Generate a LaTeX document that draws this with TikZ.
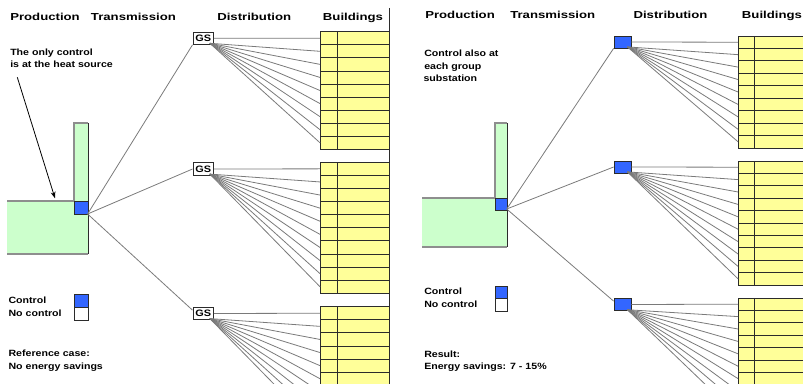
\documentclass[tikz,border=0pt]{standalone}
\usepackage{fontspec}
\setmainfont{Liberation Sans}
\newfontfamily\headfont{Liberation Sans}[FakeStretch=1.3]
\newfontfamily\notefont{Liberation Sans}[FakeStretch=1.17]
\usetikzlibrary{calc,arrows.meta}

\definecolor{plantgreen}{HTML}{CCFFCC}
\definecolor{ctrlblue}{HTML}{3366FF}
\definecolor{bldyellow}{HTML}{FFFF99}
\definecolor{pipegray}{HTML}{7A7A7A}
\definecolor{edgegray}{HTML}{8E8E8E}
\definecolor{edgedark}{HTML}{2B2B2B}

\tikzset{
  head/.style={font=\headfont\bfseries\fontsize{7.6}{9}\selectfont, anchor=base west, inner sep=0pt},
  note/.style={font=\notefont\bfseries\fontsize{6.8}{8}\selectfont, anchor=base west, inner sep=0pt},
  pipe/.style={draw=pipegray, line width=0.6pt},
  bldrow/.style={fill=bldyellow, draw=edgedark, line width=0.6pt},
  bldline/.style={draw=edgedark, line width=0.6pt},
  gsnode/.style={draw=edgedark, fill=white, line width=0.5pt, inner sep=0pt,
    minimum width=15.5pt, minimum height=9.4pt,
    font=\notefont\bfseries\fontsize{7}{8}\selectfont},
  ctrlnode/.style={draw=edgedark, fill=ctrlblue, line width=0.6pt, inner sep=0pt},
  freenode/.style={draw=edgedark, fill=white, line width=0.6pt, inner sep=0pt},
}

% a stack of building rows: name, left x, column x, right x, top y, rows, row height
\newcommand\bldgroup[7]{%
  \foreach \i in {1,...,#6}{%
    \draw[bldrow] (#2,{#5+(\i-1)*#7}) rectangle (#4,{#5+\i*#7});
    \coordinate (#1-\i) at (#2,{#5+(\i-0.5)*#7});
  }%
  \draw[bldline] (#3,#5) -- (#3,{#5+#6*#7});
}
% distribution fan: substation node, building group, rows
\newcommand\distfan[3]{%
  \coordinate (#1hub) at ($(#1.south east)+(-4,-1.5)$);
  \draw[pipe] (#1.east) -- (#2-1);
  \foreach \i in {2,...,#3}{\draw[pipe] (#1hub) -- (#2-\i);}
}

\begin{document}
\begin{tikzpicture}[x=0.75pt, y=-0.75pt]
\useasboundingbox (0,0) rectangle (803,384);
\clip (0,0) rectangle (803,384);

% ---------------- left: reference case ----------------
\node[head] (hProdL) at (10,20.7) {Production};
\node[head] (hTransL) at (90.7,20.7) {Transmission};
\node[head] (hDistL) at (217,20.7) {Distribution};
\node[head] (hBldL) at (322.7,20.7) {Buildings};

% heat plant
\fill[plantgreen] (7,201) rectangle (88,254);
\fill[plantgreen] (74,123) rectangle (88,201);
\draw[edgegray, line width=0.9pt] (7,201) -- (74,201) -- (74,123) -- (88,123);
\draw[edgegray, line width=0.9pt] (7,254) -- (88,254);
\draw[edgedark, line width=0.7pt] (88,123) -- (88,254);
\node[ctrlnode, minimum width=10.5pt, minimum height=10pt] (srcL) at (81,208.2) {};

% buildings
\bldgroup{bA}{320}{337}{389}{31.7}{9}{13.07}
\bldgroup{bB}{320}{337}{389}{162.3}{10}{13.1}
\bldgroup{bC}{320}{337}{389}{306.7}{10}{13.1}
\draw[edgedark, line width=0.7pt] (389,8) -- (389,384);

% group substations
\node[gsnode] (gsA) at (203.2,38.2) {GS};
\node[gsnode] (gsB) at (203.2,169) {GS};
\node[gsnode] (gsC) at (203.2,313.5) {GS};

% transmission
\coordinate (outL) at (87.6,214);
\draw[pipe] (outL) -- (gsA.south west);
\draw[pipe] (outL) -- (gsB.west);
\draw[pipe] (outL) -- ($(gsC.north west)!0.5!(gsC.west)$);

\distfan{gsA}{bA}{9}
\distfan{gsB}{bB}{10}
\distfan{gsC}{bC}{10}

% notes
\node[note] (nL1) at (10,55.7) {The only control};
\node[note] (nL2) at (10,67.3) {is at the heat source};
\coordinate (arrTail) at (17.3,77.3);
\coordinate (arrHead) at (55,198.3);
\draw[-{Stealth[length=5pt,width=3.6pt]}, line width=0.6pt, black] (arrTail) -- (arrHead);

\node[note] (legL1) at (8.3,304) {Control};
\node[note] (legL2) at (8.3,316.7) {No control};
\node[ctrlnode, minimum width=10.5pt, minimum height=9.75pt] (keyCtrlL) at (81,300.5) {};
\node[freenode, minimum width=10.5pt, minimum height=9.75pt] (keyFreeL) at (81,313.5) {};
\node[note] (resL1) at (8.3,356.7) {Reference case:};
\node[note] (resL2) at (8.3,369.3) {No energy savings};

% ---------------- right: control at each group substation ----------------
\node[head] (hProdR) at (425,19) {Production};
\node[head] (hTransR) at (510,19) {Transmission};
\node[head] (hDistR) at (633.3,19) {Distribution};
\node[head] (hBldR) at (741.7,19) {Buildings};

\fill[plantgreen] (422,198) rectangle (507,247);
\fill[plantgreen] (495,123) rectangle (507,198);
\draw[edgegray, line width=0.9pt] (422,198) -- (495,198) -- (495,123) -- (507,123);
\draw[edgegray, line width=0.9pt] (422,247) -- (507,247);
\draw[edgedark, line width=0.7pt] (507,123) -- (507,247);
\node[ctrlnode, minimum width=9pt, minimum height=9pt] (srcR) at (501,204) {};

\bldgroup{bD}{738}{754}{810}{36}{9}{12.44}
\bldgroup{bE}{738}{754}{810}{161}{10}{12.4}
\bldgroup{bF}{738}{754}{810}{298}{10}{12.4}

\node[ctrlnode, minimum width=12.75pt, minimum height=9pt] (dsA) at (622.5,42) {};
\node[ctrlnode, minimum width=12.75pt, minimum height=9pt] (dsB) at (622.5,167) {};
\node[ctrlnode, minimum width=12.75pt, minimum height=9.5pt] (dsC) at (622.5,304.5) {};

\coordinate (outR) at (506.7,209);
\draw[pipe] (outR) -- (dsA.south west);
\draw[pipe] (outR) -- (dsB.west);
\draw[pipe] (outR) -- ($(dsC.north west)!0.5!(dsC.west)$);

\distfan{dsA}{bD}{9}
\distfan{dsB}{bE}{10}
\distfan{dsC}{bF}{10}

\node[note] (nR1) at (424,56.7) {Control also at};
\node[note] (nR2) at (424,70) {each group};
\node[note] (nR3) at (423.3,82) {substation};

\node[note] (legR1) at (424,295) {Control};
\node[note] (legR2) at (424,307.7) {No control};
\node[ctrlnode, minimum width=9pt, minimum height=9pt] (keyCtrlR) at (501,292) {};
\node[freenode, minimum width=9pt, minimum height=9.75pt] (keyFreeR) at (501,304.5) {};
\node[note] (resR1) at (424,357.7) {Result:};
\node[note] (resR2) at (424,370) {Energy savings: 7 - 15\%};
\end{tikzpicture}
\end{document}
